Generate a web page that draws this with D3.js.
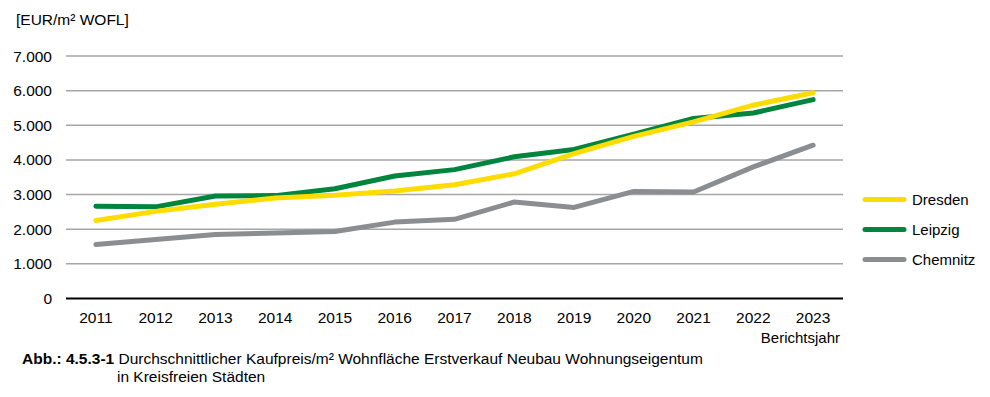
<!DOCTYPE html>
<html>
<head>
    <meta charset="utf-8">
    <script src="https://d3js.org/d3.v7.min.js"></script>
    <style>
        body { margin: 0; background: #fff; }
        svg { display: block; font-family: "Liberation Sans", Arial, sans-serif; }
    </style>
</head>
<body>
<svg width="990" height="397"></svg>
<script>
    // chart data
    const years = ['2011','2012','2013','2014','2015','2016','2017','2018','2019','2020','2021','2022','2023'];
    const dresden  = [2250, 2515, 2720, 2900, 2980, 3100, 3285, 3600, 4180, 4680, 5100, 5580, 5940];
    const leipzig  = [2660, 2645, 2960, 2970, 3170, 3535, 3720, 4090, 4300, 4740, 5195, 5355, 5740];
    const chemnitz = [1560, 1705, 1850, 1890, 1935, 2205, 2285, 2785, 2630, 3090, 3075, 3800, 4425];
    const yTicks = [0, 1000, 2000, 3000, 4000, 5000, 6000, 7000];

    const series = [
        { name: 'Dresden',  values: dresden,  color: '#ffdc00' },
        { name: 'Leipzig',  values: leipzig,  color: '#00853e' },
        { name: 'Chemnitz', values: chemnitz, color: '#8b8e90' }
    ];

    let svg = d3.select('svg');

    let x = d3.scaleBand()
              .domain(years)
              .range([66, 843]);
    let y = d3.scaleLinear()
              .domain([0, 7000])
              .range([298.5, 56]);

    const fmt = d => d === 0 ? '0' : d3.format(',')(d).replace(/,/g, '.');

    // unit label
    svg.append('text')
        .attr('x', 16).attr('y', 25)
        .style('font-size', '15.5px')
        .text('[EUR/m² WOFL]');

    // gridlines
    svg.append('g').selectAll('line')
        .data(yTicks.filter(d => d > 0))
        .join('line')
        .attr('x1', 66).attr('x2', 843)
        .attr('y1', d => y(d)).attr('y2', d => y(d))
        .style('stroke', '#a6a6a6')
        .style('stroke-width', 1.5);

    // y labels
    svg.append('g').selectAll('text')
        .data(yTicks)
        .join('text')
        .attr('x', 52)
        .attr('y', d => y(d) + 5.5)
        .attr('text-anchor', 'end')
        .style('font-size', '15.5px')
        .text(fmt);

    // x axis line
    svg.append('line')
        .attr('x1', 66).attr('x2', 843)
        .attr('y1', y(0)).attr('y2', y(0))
        .style('stroke', '#000')
        .style('stroke-width', 2);

    // x labels
    svg.append('g').selectAll('text')
        .data(years)
        .join('text')
        .attr('x', d => x(d) + x.bandwidth() / 2)
        .attr('y', 323)
        .attr('text-anchor', 'middle')
        .style('font-size', '15.5px')
        .text(d => d);

    svg.append('text')
        .attr('x', 840).attr('y', 343)
        .attr('text-anchor', 'end')
        .style('font-size', '15px')
        .text('Berichtsjahr');

    // lines
    let line = d3.line()
                 .x((d, i) => x(years[i]) + x.bandwidth() / 2)
                 .y(d => y(d));

    svg.append('g').selectAll('path')
        .data(series.slice().reverse())
        .join('path')
        .attr('d', d => line(d.values))
        .style('fill', 'none')
        .style('stroke', d => d.color)
        .style('stroke-width', 5)
        .style('stroke-linejoin', 'round')
        .style('stroke-linecap', 'round');

    // legend
    let legend = svg.append('g').selectAll('g')
        .data(series)
        .join('g')
        .attr('transform', (d, i) => `translate(0,${199.5 + i * 30})`);
    legend.append('line')
        .attr('x1', 865).attr('x2', 904)
        .style('stroke', d => d.color)
        .style('stroke-width', 5)
        .style('stroke-linecap', 'round');
    legend.append('text')
        .attr('x', 912).attr('y', 5.5)
        .style('font-size', '15px')
        .text(d => d.name);

    // caption
    let cap = svg.append('text')
        .attr('x', 22).attr('y', 364)
        .style('font-size', '15.5px');
    cap.append('tspan').style('font-weight', 'bold').text('Abb.: 4.5.3-1 ');
    cap.append('tspan').text('Durchschnittlicher Kaufpreis/m² Wohnfläche Erstverkauf Neubau Wohnungseigentum');
    svg.append('text')
        .attr('x', 117).attr('y', 382)
        .style('font-size', '15.5px')
        .text('in Kreisfreien Städten');
</script>
</body>
</html>
